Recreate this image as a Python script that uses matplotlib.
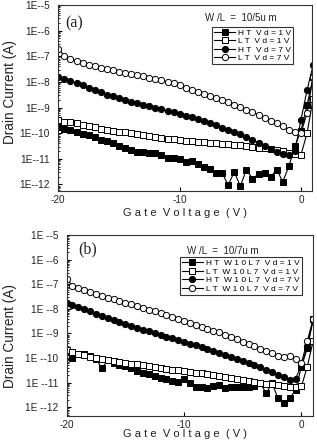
import numpy as np
import matplotlib.pyplot as plt
from matplotlib.ticker import LogLocator, NullFormatter, FixedLocator

# gate voltage sweep (V)
vg = np.arange(-20, 1.01, 0.5)

# log10 of drain current (A), panel (a) W/L = 10/5um
a_ht1 = [-9.75, -9.82, -9.88, -9.95, -10.04, -10.08, -10.14, -10.25, -10.31, -10.40,
         -10.51, -10.56, -10.66, -10.73, -10.73, -10.77, -10.77, -10.86, -10.95, -10.96,
         -11.00, -11.12, -11.09, -11.20, -11.32, -11.38, -11.57, -11.55, -12.03, -11.51,
         -12.07, -11.42, -11.77, -11.60, -11.55, -11.71, -11.42, -11.90, -11.29, -10.51,
         -9.90, -8.90, -7.80]
a_lt1 = [-9.47, -9.55, -9.58, -9.62, -9.67, -9.72, -9.77, -9.82, -9.86, -9.90,
         -9.94, -9.97, -10.00, -10.04, -10.08, -10.12, -10.15, -10.18, -10.21, -10.24,
         -10.27, -10.29, -10.32, -10.34, -10.36, -10.38, -10.40, -10.42, -10.44, -10.46,
         -10.48, -10.50, -10.53, -10.56, -10.59, -10.62, -10.66, -10.71, -10.76, -10.80,
         -10.84, -10.00, -8.65]
a_ht7 = [-7.82, -7.90, -7.97, -8.04, -8.12, -8.22, -8.30, -8.40, -8.50, -8.57,
         -8.64, -8.71, -8.78, -8.84, -8.89, -8.95, -9.01, -9.07, -9.13, -9.19,
         -9.25, -9.32, -9.38, -9.45, -9.52, -9.60, -9.68, -9.78, -9.88, -9.96,
         -10.05, -10.14, -10.25, -10.38, -10.50, -10.62, -10.72, -10.80, -10.87, -10.70,
         -9.47, -8.32, -7.34]
a_lt7 = [-6.70, -6.98, -7.10, -7.19, -7.27, -7.34, -7.39, -7.45, -7.50, -7.55,
         -7.60, -7.65, -7.70, -7.74, -7.79, -7.84, -7.88, -7.94, -8.00, -8.06,
         -8.14, -8.22, -8.30, -8.38, -8.46, -8.54, -8.62, -8.71, -8.80, -8.89,
         -8.98, -9.08, -9.18, -9.29, -9.40, -9.51, -9.62, -9.74, -9.86, -9.95,
         -10.00, -9.20, -7.80]

# panel (b) W/L = 10/7um
b_ht1 = [-9.75, -10.00, -9.85, -9.82, -9.90, -10.02, -10.42, -10.10, -10.20, -10.27,
         -10.33, -10.42, -10.52, -10.60, -10.66, -10.74, -10.80, -10.86, -10.92, -10.97,
         -10.85, -11.03, -11.20, -11.17, -11.23, -11.12, -11.10, -11.23, -11.18, -11.17,
         -11.16, -11.17, -11.14, -11.03, -11.43, -11.03, -11.64, -11.84, -11.64, -11.30,
         -10.35, -9.60, -8.40]
b_lt1 = [-9.68, -9.76, -9.82, -9.88, -9.94, -9.99, -10.04, -10.08, -10.11, -10.15,
         -10.19, -10.23, -10.26, -10.30, -10.33, -10.37, -10.40, -10.44, -10.47, -10.50,
         -10.53, -10.57, -10.60, -10.63, -10.67, -10.71, -10.74, -10.78, -10.81, -10.85,
         -10.89, -10.93, -10.97, -11.01, -11.04, -11.07, -11.10, -11.13, -11.16, -11.18,
         -11.15, -10.35, -9.30]
b_ht7 = [-7.74, -7.83, -7.92, -8.01, -8.10, -8.19, -8.28, -8.37, -8.46, -8.55,
         -8.63, -8.71, -8.78, -8.85, -8.92, -8.99, -9.06, -9.13, -9.20, -9.27,
         -9.34, -9.41, -9.48, -9.56, -9.63, -9.71, -9.79, -9.87, -9.95, -10.03,
         -10.11, -10.19, -10.28, -10.38, -10.48, -10.58, -10.68, -10.78, -10.89, -10.84,
         -10.30, -9.50, -8.45]
b_lt7 = [-6.79, -7.05, -7.15, -7.25, -7.33, -7.40, -7.47, -7.54, -7.61, -7.68,
         -7.75, -7.82, -7.89, -7.96, -8.03, -8.10, -8.17, -8.25, -8.33, -8.41,
         -8.49, -8.57, -8.65, -8.72, -8.80, -8.88, -8.96, -9.05, -9.14, -9.24,
         -9.33, -9.43, -9.53, -9.63, -9.72, -9.81, -9.90, -9.97, -9.92, -10.05,
         -10.20, -9.30, -8.40]

a_labels = ["HT Vd=1V", "LT Vd=1V", "HT Vd=7V", "LT Vd=7V"]
b_labels = ["HT W10L7 Vd=1V", "LT W10L7 Vd=1V", "HT W10L7 Vd=7V", "LT W10L7 Vd=7V"]
decades = [-12, -11, -10, -9, -8, -7, -6, -5]
xticks = [-20, -10, 0]

plt.rcParams['font.family'] = ['Liberation Sans', 'DejaVu Sans']


def track(s):
    # wide letter spacing like the scanned figure
    return " ".join(s).replace("   ", "  ")


def panel(ax, series, labels, wl, tag, xmax, ymin, ytick_fmt, leg_anchor, wl_pos, tag_pos):
    styles = [('s', 'k'), ('s', 'w'), ('o', 'k'), ('o', 'w')]
    for vals, lab, (m, fc) in zip(series, labels, styles):
        ax.plot(vg, 10 ** np.array(vals), color='k', lw=0.8, marker=m, ms=4.5,
                mfc=fc, mec='k', mew=0.7, label=track(lab))
    ax.set_yscale('log')
    ax.set_xlim(-20, xmax)
    ax.set_ylim(10 ** ymin, 1e-5)
    ax.yaxis.set_major_locator(FixedLocator([10.0 ** d for d in decades]))
    ax.set_yticklabels([ytick_fmt.format(d) for d in decades])
    ax.yaxis.set_minor_locator(LogLocator(base=10, subs=np.arange(2, 10)))
    ax.yaxis.set_minor_formatter(NullFormatter())
    ax.set_xticks(xticks)
    ax.set_xticklabels([str(t) for t in xticks])
    ax.tick_params(which='both', direction='in', labelsize=7.2, labelcolor='#222')
    ax.tick_params(axis='y', which='major', length=3, pad=6)
    ax.tick_params(axis='y', which='minor', length=1.5)
    ax.tick_params(axis='x', length=3, pad=3)
    for sp in ax.spines.values():
        sp.set_linewidth(0.8)
        sp.set_color('#333')
    leg = ax.legend(loc='upper right', bbox_to_anchor=leg_anchor, borderaxespad=0,
                    fontsize=6, handlelength=2.6, handletextpad=0.3, borderpad=0.25,
                    labelspacing=0.08, fancybox=False, framealpha=1)
    leg.get_frame().set_edgecolor('#333')
    leg.get_frame().set_linewidth(0.8)
    ax.text(wl_pos[0], wl_pos[1], wl, transform=ax.transAxes, fontsize=7,
            va='center', ha='left', color='#222')
    ax.text(tag_pos[0], tag_pos[1], tag, transform=ax.transAxes, fontsize=11.5,
            family='Liberation Serif', va='center', ha='left', color='#222')


fig = plt.figure(figsize=(3.17, 4.48), dpi=100)
ax1 = fig.add_axes([0.184, 0.574, 0.800, 0.415])
ax2 = fig.add_axes([0.210, 0.072, 0.778, 0.403])

panel(ax1, [a_ht1, a_lt1, a_ht7, a_lt7], a_labels, "W /L  =  10/5u m", "(a)",
      0.9, -12.25, "1E-{}", (0.926, 0.882), (0.578, 0.93), (0.026, 0.903))
panel(ax2, [b_ht1, b_lt1, b_ht7, b_lt7], b_labels, "W /L  =  10/7u m", "(b)",
      1.0, -12.35, "1E -{}", (0.953, 0.877), (0.487, 0.911), (0.047, 0.923))

for xc, yc in [(185, 213), (185, 434)]:
    fig.text(xc / 317, 1 - yc / 448, track("Gate Voltage (V)"),
             ha='center', va='center', fontsize=8, color='#222')
for yc in [92.5, 336.5]:
    fig.text(10 / 317, 1 - yc / 448, "Drain Current (A)", rotation=90,
             ha='center', va='center', fontsize=9.8, color='#222')

fig.savefig("out.png", dpi=100)
